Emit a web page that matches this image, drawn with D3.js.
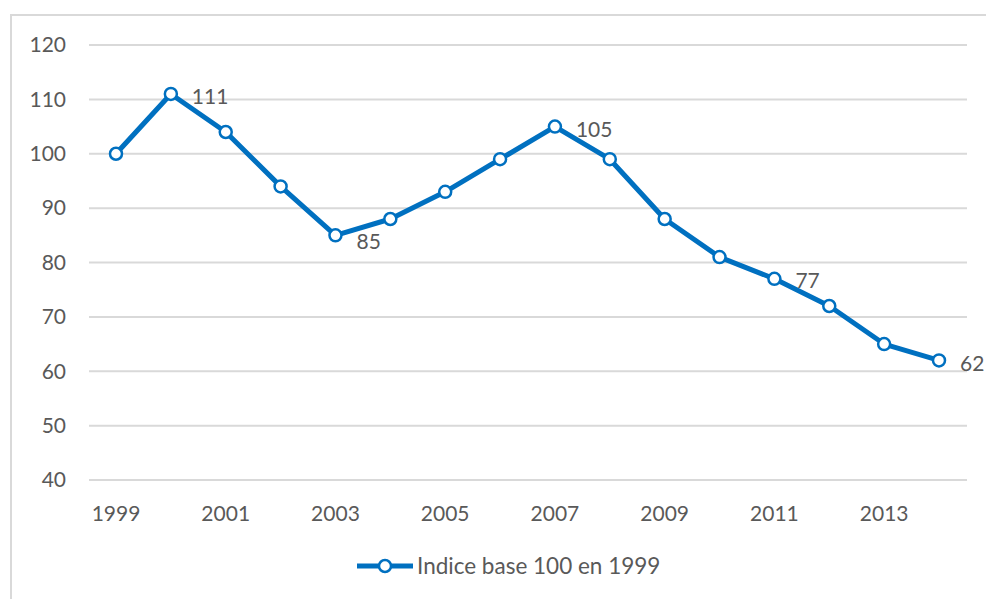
<!DOCTYPE html>
<html>
<head>
<meta charset="utf-8">
<script src="https://cdn.jsdelivr.net/npm/d3@7"></script>
<style>
  body { margin: 0; background: #fff; }
  svg text { font-family: Lato, "Open Sans", sans-serif; fill: #595959; }
</style>
</head>
<body>
<svg id="chart" width="986" height="599"></svg>
<script>
// data
var years = [1999, 2000, 2001, 2002, 2003, 2004, 2005, 2006, 2007, 2008, 2009, 2010, 2011, 2012, 2013, 2014];
var values = [100, 111, 104, 94, 85, 88, 93, 99, 105, 99, 88, 81, 77, 72, 65, 62];
var yTicks = [40, 50, 60, 70, 80, 90, 100, 110, 120];
var xTicks = [1999, 2001, 2003, 2005, 2007, 2009, 2011, 2013];
var labelled = [2000, 2003, 2007, 2011, 2014];
var seriesName = "Indice base 100 en 1999";

var blue = "#0070c0";
var fs = 21;

var svg = d3.select("#chart");

// outer frame
svg.append("rect")
  .attr("x", 11).attr("y", 15)
  .attr("width", 1000).attr("height", 620)
  .attr("fill", "none").attr("stroke", "#d9d9d9").attr("stroke-width", 2);

var x = d3.scaleLinear().domain([1999, 2014]).range([116, 939]);
var y = d3.scaleLinear().domain([40, 120]).range([480, 45]);

// gridlines
svg.append("g").selectAll("line")
  .data(yTicks).enter().append("line")
  .attr("x1", 89).attr("x2", 967)
  .attr("y1", function(d) { return y(d); })
  .attr("y2", function(d) { return y(d); })
  .attr("stroke", "#d9d9d9").attr("stroke-width", 2);

// y labels
svg.append("g").selectAll("text")
  .data(yTicks).enter().append("text")
  .attr("x", 66)
  .attr("y", function(d) { return y(d); })
  .attr("dy", "0.35em")
  .attr("text-anchor", "end")
  .attr("font-size", fs)
  .text(function(d) { return d; });

// x labels
svg.append("g").selectAll("text")
  .data(xTicks).enter().append("text")
  .attr("x", function(d) { return x(d); })
  .attr("y", 514)
  .attr("dy", "0.35em")
  .attr("text-anchor", "middle")
  .attr("font-size", fs)
  .text(function(d) { return d; });

var data = years.map(function(yr, i) { return {year: yr, value: values[i]}; });

var line = d3.line()
  .x(function(d) { return x(d.year); })
  .y(function(d) { return y(d.value); });

svg.append("path")
  .datum(data)
  .attr("d", line)
  .attr("fill", "none")
  .attr("stroke", blue)
  .attr("stroke-width", 5)
  .attr("stroke-linejoin", "round");

svg.append("g").selectAll("circle")
  .data(data).enter().append("circle")
  .attr("cx", function(d) { return x(d.year); })
  .attr("cy", function(d) { return y(d.value); })
  .attr("r", 6)
  .attr("fill", "#fff")
  .attr("stroke", blue)
  .attr("stroke-width", 2.5);

// data labels
var offsets = {2000: [21, 3], 2003: [21, 6], 2007: [21, 3], 2011: [21, 2], 2014: [21, 3]};
svg.append("g").selectAll("text")
  .data(data.filter(function(d) { return labelled.indexOf(d.year) >= 0; }))
  .enter().append("text")
  .attr("x", function(d) { return x(d.year) + offsets[d.year][0]; })
  .attr("y", function(d) { return y(d.value) + offsets[d.year][1]; })
  .attr("dy", "0.35em")
  .attr("font-size", fs)
  .text(function(d) { return d.value; });

// legend
var lg = svg.append("g").attr("transform", "translate(357,566)");
lg.append("line")
  .attr("x1", 0).attr("x2", 56).attr("y1", 0).attr("y2", 0)
  .attr("stroke", blue).attr("stroke-width", 5);
lg.append("circle")
  .attr("cx", 28).attr("cy", 0).attr("r", 6)
  .attr("fill", "#fff").attr("stroke", blue).attr("stroke-width", 2.5);
lg.append("text")
  .attr("x", 60).attr("y", 0).attr("dy", "0.35em")
  .attr("font-size", 22.5)
  .text(seriesName);
</script>
</body>
</html>
